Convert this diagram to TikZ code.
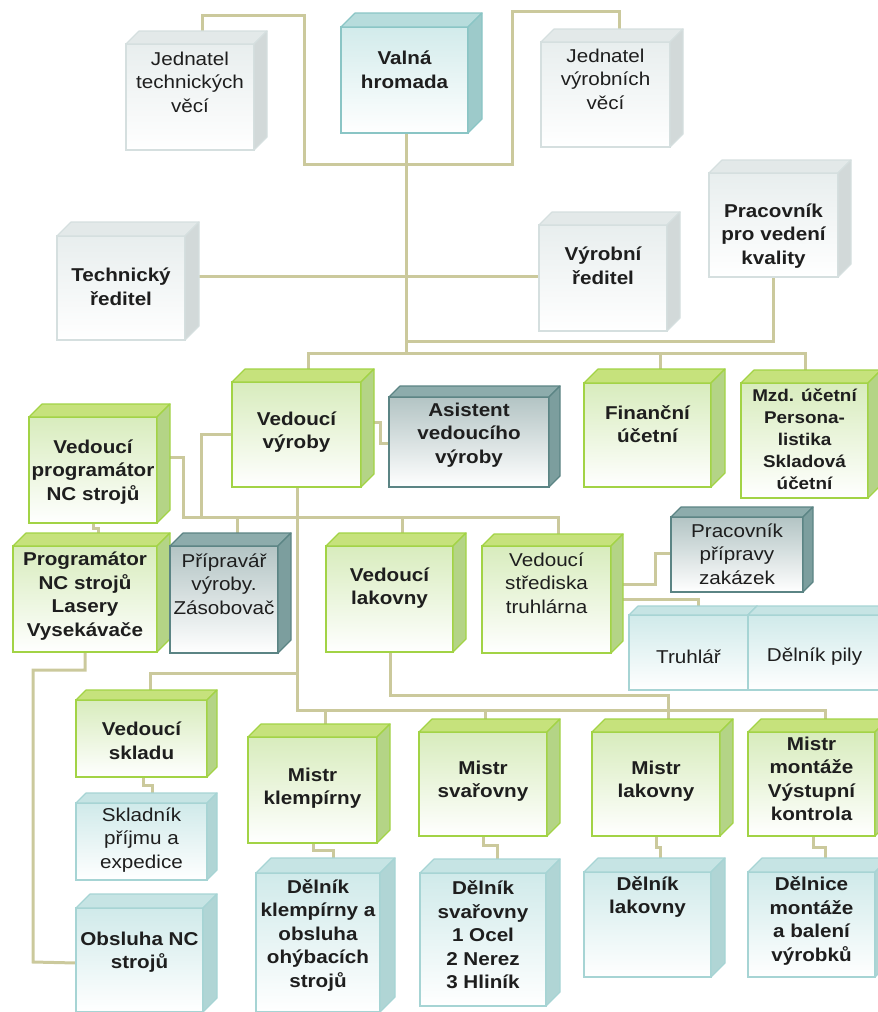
\documentclass[tikz,border=0pt]{standalone}
\usepackage{fontspec}
\setmainfont{Liberation Sans}[FakeStretch=1.11]
\pgfdeclarelayer{bg}
\pgfsetlayers{bg,main}
% gray
\definecolor{grtop}{HTML}{E3E9E9}\definecolor{grside}{HTML}{D2D9D9}\definecolor{grfront}{HTML}{E8EEEE}\definecolor{grborder}{HTML}{D5DFDF}
% valna hromada teal
\definecolor{vttop}{HTML}{B7DCDC}\definecolor{vtside}{HTML}{9DCACA}\definecolor{vtfront}{HTML}{D2EBEB}\definecolor{vtborder}{HTML}{8AC5C5}
% light teal
\definecolor{tltop}{HTML}{C6E4E4}\definecolor{tlside}{HTML}{B0D5D5}\definecolor{tlfront}{HTML}{D0EAEA}\definecolor{tlborder}{HTML}{A6D4D4}
% green
\definecolor{gntop}{HTML}{C6E27C}\definecolor{gnside}{HTML}{B4D486}\definecolor{gnfront}{HTML}{D8ECBD}\definecolor{gnborder}{HTML}{A2D345}
% dark teal
\definecolor{dttop}{HTML}{8DACAC}\definecolor{dtside}{HTML}{7C9E9E}\definecolor{dtfront}{HTML}{B3C4C4}\definecolor{dtborder}{HTML}{5B8484}
\definecolor{conncol}{HTML}{CBC99C}
\definecolor{textc}{HTML}{1E1E1E}
\tikzset{
  cubefront/.style={anchor=north west, inner sep=0pt, outer sep=0pt, bottom color=white, line width=1.2pt},
  cubeedge/.style={line width=1.2pt, line join=round},
  conn/.style={draw=conncol, line width=3pt},
  txt/.style={align=center, text=textc, inner sep=0pt, font=\fontsize{18.6}{23.5}\selectfont\bfseries},
  txtr/.style={align=center, text=textc, inner sep=0pt, font=\fontsize{18.6}{23.5}\selectfont},
  txts/.style={align=center, text=textc, inner sep=0pt, font=\fontsize{17}{22}\selectfont\bfseries}
}
% name, scheme, x1, y1, x2, y2, depth
\newcommand\cubebox[7]{%
  \node[cubefront, top color=#2front, draw=#2border, minimum width={#5-#3}, minimum height={#6-#4}] (#1) at (#3,#4) {};
  \filldraw[fill=#2top, draw=#2border, cubeedge] (#1.north west) -- ++(#7,-#7) -- ([shift={(#7,-#7)}]#1.north east) -- (#1.north east) -- cycle;
  \filldraw[fill=#2side, draw=#2border, cubeedge] (#1.north east) -- ++(#7,-#7) -- ([shift={(#7,-#7)}]#1.south east) -- (#1.south east) -- cycle;
}
\begin{document}
\begin{tikzpicture}[x=1pt,y=-1pt]
\useasboundingbox (0,0) rectangle (878,1012);
\clip (0,0) rectangle (878,1012);
% top level
\cubebox{jt}{gr}{126}{44}{254}{150}{13}
\cubebox{vh}{vt}{341}{27}{468}{133}{14}
\cubebox{jv}{gr}{541}{42}{670}{147}{13}
\cubebox{tr}{gr}{57}{236}{185}{340}{14}
\cubebox{vr}{gr}{539}{225}{667}{331}{13}
\cubebox{pk}{gr}{709}{173}{838}{277}{13}
% management
\cubebox{vv}{gn}{232}{382}{361}{487}{13}
\cubebox{as}{dt}{389}{397}{549}{487}{11}
\cubebox{fu}{gn}{584}{383}{711}{487}{14}
\cubebox{mz}{gn}{741}{383}{868}{498}{13}
\cubebox{vp}{gn}{29}{417}{157}{523}{13}
\cubebox{pn}{gn}{13}{546}{157}{652}{13}
\cubebox{pv}{dt}{170}{546}{278}{653}{13}
\cubebox{vl}{gn}{326}{546}{453}{652}{13}
\cubebox{vt}{gn}{482}{546}{611}{653}{12}
\cubebox{pz}{dt}{671}{517}{803}{592}{10}
\cubebox{tru}{tl}{629}{615}{748}{690}{9}
\cubebox{dp}{tl}{748}{615}{890}{690}{9}
% lower
\cubebox{vs}{gn}{76}{700}{207}{777}{10}
\cubebox{sk}{tl}{76}{803}{207}{880}{10}
\cubebox{ob}{tl}{76}{908}{203}{1012}{14}
\cubebox{mk}{gn}{248}{737}{377}{843}{13}
\cubebox{dk}{tl}{256}{873}{380}{1012}{15}
\cubebox{ms}{gn}{419}{732}{547}{836}{13}
\cubebox{ds}{tl}{420}{873}{546}{1006}{14}
\cubebox{ml}{gn}{592}{732}{720}{836}{13}
\cubebox{dl}{tl}{584}{872}{711}{977}{14}
\cubebox{mm}{gn}{748}{732}{875}{836}{13}
\cubebox{dm}{tl}{748}{872}{875}{977}{14}
% texts
\node[txtr] (jt-t) at (190,82) {Jednatel\\technických\\věcí};
\node[txt] (vh-t) at (404.5,70) {Valná\\hromada};
\node[txtr] (jv-t) at (605.5,79) {Jednatel\\výrobních\\věcí};
\node[txt] (tr-t) at (121,287) {Technický\\ředitel};
\node[txt] (vr-t) at (603,266) {Výrobní\\ředitel};
\node[txt] (pk-t) at (773.5,236) {Pracovník\\pro vedení\\kvality};
\node[txt] (vv-t) at (296.5,432) {Vedoucí\\výroby};
\node[txt] (as-t) at (469,435) {Asistent\\vedoucího\\výroby};
\node[txt] (fu-t) at (647.5,424) {Finanční\\účetní};
\node[txts] (mz-t) at (804.5,439) {Mzd. účetní\\Persona-\\listika\\Skladová\\účetní};
\node[txt] (vp-t) at (93,472) {Vedoucí\\programátor\\NC strojů};
\node[txt] (pn-t) at (85,596) {Programátor\\NC strojů\\Lasery\\Vysekávače};
\node[txtr] (pv-t) at (224,584) {Přípravář\\výroby.\\Zásobovač};
\node[txt] (vl-t) at (389.5,588) {Vedoucí\\lakovny};
\node[txtr] (vt-t) at (546.5,583) {Vedoucí\\střediska\\truhlárna};
\node[txtr] (pz-t) at (737,554) {Pracovník\\přípravy\\zakázek};
\node[txtr] (tru-t) at (688.5,657) {Truhlář};
\node[txtr] (dp-t) at (814.5,657) {Dělník pily};
\node[txt] (vs-t) at (141.5,741) {Vedoucí\\skladu};
\node[txtr] (sk-t) at (141.5,840) {Skladník\\příjmu a\\expedice};
\node[txt] (ob-t) at (139.5,952) {Obsluha NC\\strojů};
\node[txt] (mk-t) at (312.5,788) {Mistr\\klempírny};
\node[txt] (dk-t) at (318,935) {Dělník\\klempírny a\\obsluha\\ohýbacích\\strojů};
\node[txt] (ms-t) at (483,781) {Mistr\\svařovny};
\node[txt] (ds-t) at (483,935) {Dělník\\svařovny\\1 Ocel\\2 Nerez\\3 Hliník};
\node[txt] (ml-t) at (656,781) {Mistr\\lakovny};
\node[txt] (dl-t) at (647.5,897) {Dělník\\lakovny};
\node[txt] (mm-t) at (811.5,779) {Mistr\\montáže\\Výstupní\\kontrola};
\node[txt] (dm-t) at (811.5,921) {Dělnice\\montáže\\a balení\\výrobků};
% connectors
\begin{pgfonlayer}{bg}
\draw[conn] ([xshift=12]jt.north) -- (202,15) -- (304,15) -- (304,164) -- (406,164);
\draw[conn] ([xshift=13.5]jv.north) -- (619,11) -- (512,11) -- (512,164) -- (406,164);
\draw[conn] ([xshift=1.5]vh.south) -- (406,353) -- (308,353) -- ([xshift=11.5]vv.north);
\draw[conn] ([yshift=12]tr.east) -- ([yshift=2]vr.west);
\draw[conn] ([xshift=-0.5]pk.south) -- (773,341) -- (406,341);
\draw[conn] (406,353) -- (805,353) -- ([xshift=0.5]mz.north);
\draw[conn] (660,353) -- ([xshift=12.5]fu.north);
\draw[conn] ([yshift=12.5]vv.east) -- (380,422) -- (380,443) -- ([yshift=-1]as.west);
\draw[conn] ([yshift=0.5]vv.west) -- (201,434) -- (201,517);
\draw[conn] ([yshift=13]vp.east) -- (183,457) -- (183,517) -- (558,517) -- ([xshift=11.5]vt.north);
\draw[conn] (237,517) -- ([xshift=13]pv.north);
\draw[conn] (402,517) -- ([xshift=12.5]vl.north);
\draw[conn] (vp.south) -- (93,528) -- (98,528) -- ([xshift=13]pn.north);
\draw[conn] ([xshift=0.5]vv.south) -- (297,710) -- (825,710) -- ([xshift=13.5]mm.north);
\draw[conn] (325,710) -- ([xshift=12.5]mk.north);
\draw[conn] (485,710) -- ([xshift=2]ms.north);
\draw[conn] (297,673) -- (150,673) -- ([xshift=8.5]vs.north);
\draw[conn] ([xshift=0.5]vl.south) -- (390,695) -- (668,695) -- ([xshift=12]ml.north);
\draw[conn] (pn.south) -- (85,670) -- (33,670) -- (33,962) -- ([yshift=-3]ob.west);
\draw[conn] ([yshift=15.5]vt.east) -- (655,584) -- (655,553) -- ([yshift=1.5]pz.west);
\draw[conn] ([yshift=0.5]vt.east) -- (698,599) -- ([xshift=9.5]tru.north);
\draw[conn] ([xshift=1.5]vs.south) -- (143,785) -- (152,785) -- ([xshift=10.5]sk.north);
\draw[conn] ([xshift=0.5]mk.south) -- (313,850) -- (333,850) -- ([xshift=15]dk.north);
\draw[conn] (ms.south) -- (483,845) -- (497,845) -- ([xshift=14]ds.north);
\draw[conn] (ml.south) -- (656,847) -- (660,847) -- ([xshift=12.5]dl.north);
\draw[conn] ([xshift=1.5]mm.south) -- (813,847) -- (825,847) -- ([xshift=13.5]dm.north);
\end{pgfonlayer}
\end{tikzpicture}
\end{document}
